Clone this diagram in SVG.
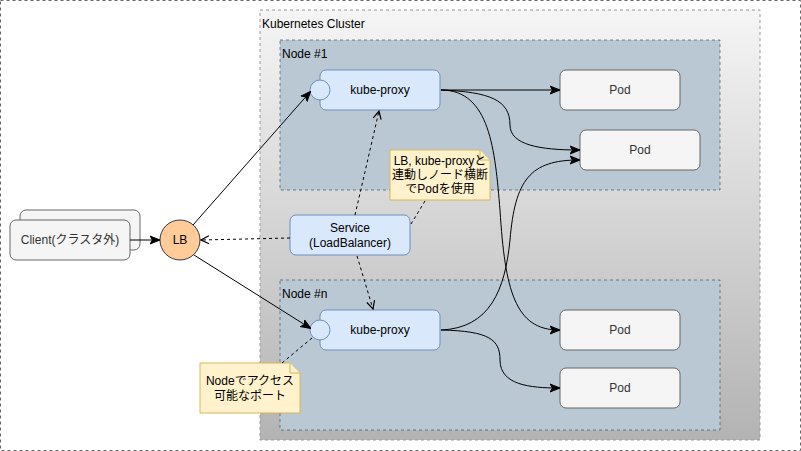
<svg xmlns="http://www.w3.org/2000/svg" width="801" height="451" viewBox="0 0 801 451">
<defs>
<linearGradient id="gc" x1="0" y1="0" x2="0" y2="1">
<stop offset="0" stop-color="#f5f5f5"/>
<stop offset="1" stop-color="#b3b3b3"/>
</linearGradient>
<marker id="arr" viewBox="0 0 10 10" refX="9" refY="5" markerWidth="10" markerHeight="10" markerUnits="userSpaceOnUse" orient="auto">
<path d="M0,1 L10,5 L0,9 L2.5,5 Z" fill="#000" stroke="#000" stroke-width="1"/>
</marker>
<marker id="open" viewBox="0 0 10 10" refX="9" refY="5" markerWidth="10" markerHeight="10" markerUnits="userSpaceOnUse" orient="auto">
<path d="M1,1 L9,5 L1,9" fill="none" stroke="#000" stroke-width="1.2"/>
</marker>
</defs>
<style>
text{font-family:"Liberation Sans",Arial,"Noto Sans CJK JP",sans-serif;font-size:12px;fill:#000}
.c{text-anchor:middle}
.pod rect{fill:#f5f5f5;stroke:#666666}
.pod text{fill:#333333}
.kp rect,.kp circle,.svc rect{fill:#dae8fc;stroke:#6c8ebf}
.node{fill:#bac8d3;stroke:#23445d;stroke-opacity:0.6;stroke-dasharray:3 3}
.note path{fill:#fff2cc;stroke:#d6b656}
.e{fill:none;stroke:#000;stroke-width:1}
.d{stroke-dasharray:3 3}
</style>
<rect x="0.5" y="0.5" width="800" height="450" fill="#ffffff" stroke="#666666" stroke-dasharray="3 3"/>
<g id="cluster">
<rect x="260" y="10" width="500" height="430" fill="url(#gc)" stroke="#999999" stroke-dasharray="3 3"/>
<text x="262" y="28">Kubernetes Cluster</text>
</g>
<g id="node1">
<rect class="node" x="280" y="40" width="440" height="150"/>
<text x="282" y="58">Node #1</text>
</g>
<g id="noden">
<rect class="node" x="280" y="280" width="440" height="150"/>
<text x="282" y="298">Node #n</text>
</g>
<g id="client">
<rect x="20" y="210" width="120" height="40" rx="6" fill="#f5f5f5" stroke="#666666"/>
<rect x="10" y="220" width="120" height="40" rx="6" fill="#f5f5f5" stroke="#666666"/>
<text class="c" x="70" y="244" style="fill:#333333">Client(クラスタ外)</text>
</g>
<g id="lb">
<circle cx="180" cy="240" r="20" fill="#ffcc99" stroke="#36393d"/>
<text class="c" x="180" y="244">LB</text>
</g>
<g id="kp1" class="kp">
<rect x="320" y="70" width="120" height="40" rx="6"/>
<circle cx="320" cy="90" r="10"/>
<text class="c" x="380" y="94">kube-proxy</text>
</g>
<g id="kpn" class="kp">
<rect x="320" y="310" width="120" height="40" rx="6"/>
<circle cx="320" cy="330" r="10"/>
<text class="c" x="380" y="334">kube-proxy</text>
</g>
<g id="pod1" class="pod"><rect x="560" y="70" width="120" height="40" rx="6"/><text class="c" x="620" y="94">Pod</text></g>
<g id="pod2" class="pod"><rect x="580" y="130" width="120" height="40" rx="6"/><text class="c" x="640" y="154">Pod</text></g>
<g id="pod3" class="pod"><rect x="560" y="310" width="120" height="40" rx="6"/><text class="c" x="620" y="334">Pod</text></g>
<g id="pod4" class="pod"><rect x="560" y="368" width="120" height="40" rx="6"/><text class="c" x="620" y="392">Pod</text></g>
<g id="service" class="svc">
<rect x="290" y="215" width="120" height="40" rx="6"/>
<text class="c" x="350" y="232">Service</text>
<text class="c" x="350" y="247">(LoadBalancer)</text>
</g>
<g id="note1" class="note">
<path d="M390,150 H480 L490,160 V200 H390 Z"/>
<path d="M480,150 V160 H490" fill="none"/>
<text class="c" x="440" y="165">LB, kube-proxyと</text>
<text class="c" x="440" y="179">連動しノード横断</text>
<text class="c" x="440" y="193">でPodを使用</text>
</g>
<g id="note2" class="note">
<path d="M200,363 H290 L300,373 V413 H200 Z"/>
<path d="M290,363 V373 H300" fill="none"/>
<text class="c" x="250" y="385">Nodeでアクセス</text>
<text class="c" x="250" y="400">可能なポート</text>
</g>
<g id="connectors">
<path class="e" d="M130,240 H159" marker-end="url(#arr)"/>
<path class="e" d="M193,225 L310,92" marker-end="url(#arr)"/>
<path class="e" d="M194,255 L310,328" marker-end="url(#arr)"/>
<path class="e d" d="M290,238 L201,240" marker-end="url(#open)"/>
<path class="e d" d="M355,215 L379,111" marker-end="url(#open)"/>
<path class="e d" d="M357,256 L373,309" marker-end="url(#open)"/>
<path class="e d" d="M425,201 L411,224"/>
<path class="e d" d="M312,338 L282,363"/>
<path class="e" d="M441,90 H559" marker-end="url(#arr)"/>
<path class="e" d="M441,90 C490,92 510,100 510,125 C510,145 540,150 579,150" marker-end="url(#arr)"/>
<path class="e" d="M441,90 C490,90 495,150 500,210 C505,290 515,330 559,330" marker-end="url(#arr)"/>
<path class="e" d="M441,330 C490,328 505,290 510,240 C515,180 530,160 579,160" marker-end="url(#arr)"/>
<path class="e" d="M441,330 C490,331 500,340 500,360 C500,385 530,388 559,388" marker-end="url(#arr)"/>
</g>
</svg>
